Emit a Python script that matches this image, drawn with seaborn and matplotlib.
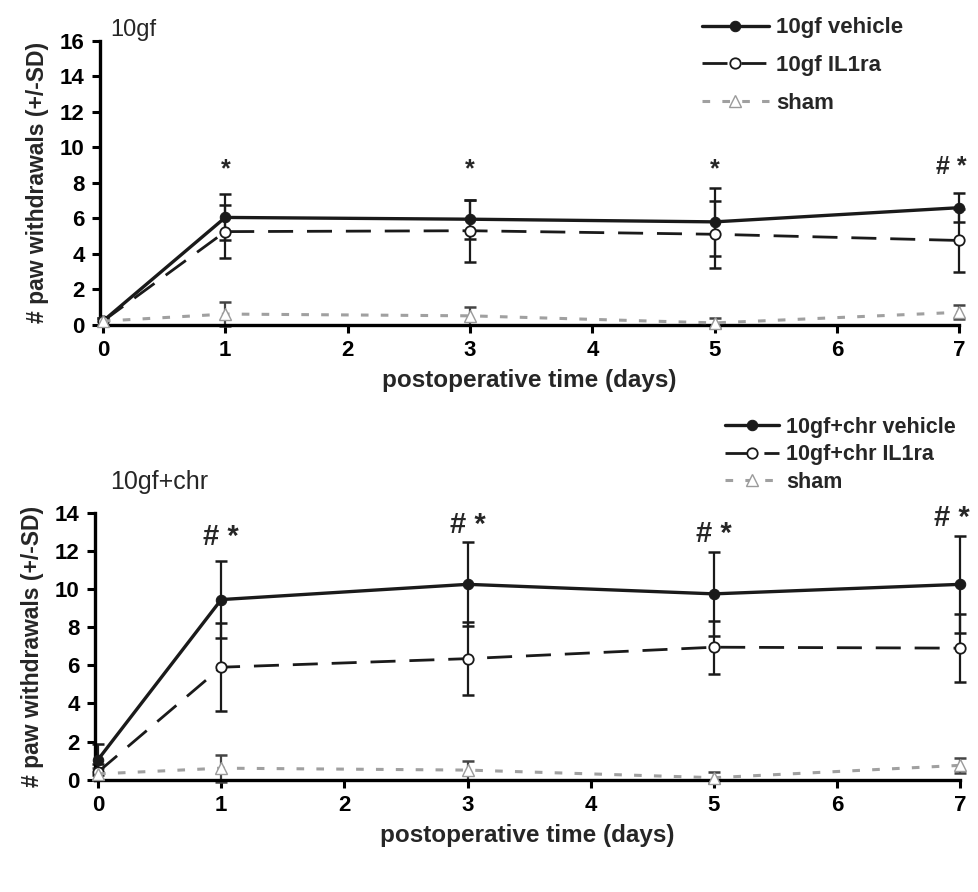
import numpy as np
import pandas as pd
import seaborn as sns
import matplotlib.pyplot as plt

# Data
days = [0, 1, 3, 5, 7]

# panel A: 10gf
veh_a = [0.2, 6.05, 5.95, 5.8, 6.6]
veh_a_sd = [0.2, 1.3, 1.1, 1.9, 0.8]
il_a = [0.2, 5.25, 5.3, 5.1, 4.75]
il_a_sd = [0.2, 1.5, 1.75, 1.9, 1.8]
sham_a = [0.2, 0.6, 0.5, 0.1, 0.7]
sham_a_sd = [0.2, 0.7, 0.5, 0.3, 0.4]

# panel B: 10gf+chr
veh_b = [1.05, 9.45, 10.25, 9.75, 10.25]
veh_b_sd = [0.8, 2.0, 2.2, 2.2, 2.55]
il_b = [0.4, 5.9, 6.35, 6.95, 6.9]
il_b_sd = [0.4, 2.3, 1.9, 1.4, 1.8]
sham_b = [0.3, 0.6, 0.5, 0.1, 0.75]
sham_b_sd = [0.3, 0.7, 0.5, 0.3, 0.4]

# significance marks
marks_a = ["", "*", "*", "*", "# *"]
marks_a_x = [0, 1, 3, 5, 6.93]
marks_a_y = [0, 8.1, 8.1, 8.1, 8.2]
marks_b = ["", "# *", "# *", "# *", "# *"]
marks_b_x = [0, 1, 3, 5, 6.93]
marks_b_y = [0, 12.0, 12.65, 12.15, 13.0]

sns.set_theme(style="white")
plt.rcParams["font.family"] = ["Liberation Sans", "DejaVu Sans"]

fig = plt.figure(figsize=(9.79, 8.92), dpi=100)
ax1 = fig.add_axes([0.102, 0.636, 0.878, 0.318])
ax2 = fig.add_axes([0.097, 0.126, 0.884, 0.299])


def draw_panel(ax, veh, veh_sd, il, il_sd, sham, sham_sd, labels, ymax):
    series = [
        (veh, veh_sd, labels[0], dict(color="#1a1a1a", linestyle="-", lw=2.4,
                                      marker="o", markersize=7.5,
                                      markerfacecolor="#1a1a1a",
                                      markeredgecolor="#1a1a1a"), "#1a1a1a"),
        (il, il_sd, labels[1], dict(color="#1a1a1a", linestyle=(0, (9, 5)), lw=2.0,
                                    marker="o", markersize=7.5,
                                    markeredgewidth=1.3,
                                    markerfacecolor="white",
                                    markeredgecolor="#1a1a1a"), "#1a1a1a"),
        (sham, sham_sd, labels[2], dict(color="#a0a0a0", linestyle=(0, (2.5, 4)), lw=2.2,
                                        marker="^", markersize=9,
                                        markeredgewidth=1.0,
                                        markerfacecolor="white",
                                        markeredgecolor="#9a9a9a"), "#444444"),
    ]
    for vals, sd, lab, kw, ecol in series:
        ax.errorbar(days, vals, yerr=sd, fmt="none", ecolor=ecol,
                    elinewidth=1.6, capsize=4.5, capthick=1.8, clip_on=False,
                    zorder=2)
        df = pd.DataFrame({"day": days, "val": vals})
        sns.lineplot(data=df, x="day", y="val", ax=ax, label=lab,
                     clip_on=False, zorder=3, **kw)

    ax.set_xlim(-0.025, 7)
    ax.set_ylim(0, ymax)
    ax.set_xticks(range(8))
    ax.set_yticks(range(0, ymax + 1, 2))
    for s in ["top", "right"]:
        ax.spines[s].set_visible(False)
    for s in ["left", "bottom"]:
        ax.spines[s].set_color("black")
        ax.spines[s].set_linewidth(2.4)
    ax.tick_params(axis="both", direction="out", length=6, width=2.2,
                   labelsize=16, colors="black", bottom=True, left=True,
                   pad=5)
    for t in ax.get_xticklabels() + ax.get_yticklabels():
        t.set_fontweight("bold")
    ax.set_xlabel("postoperative time (days)", fontsize=17.5,
                  fontweight="bold", labelpad=6)
    ax.set_ylabel("# paw withdrawals (+/-SD)", fontsize=16.5,
                  fontweight="bold", labelpad=8)


draw_panel(ax1, veh_a, veh_a_sd, il_a, il_a_sd, sham_a, sham_a_sd,
           ["10gf vehicle", "10gf IL1ra", "sham"], 16)
draw_panel(ax2, veh_b, veh_b_sd, il_b, il_b_sd, sham_b, sham_b_sd,
           ["10gf+chr vehicle", "10gf+chr IL1ra", "sham"], 14)

ax1.legend(loc="upper left", bbox_to_anchor=(0.69, 1.115), frameon=False,
           prop={"weight": "bold", "size": 16}, handlelength=3.0,
           labelspacing=0.75, handletextpad=0.35, borderaxespad=0)
ax2.legend(loc="upper left", bbox_to_anchor=(0.728, 1.36), frameon=False,
           prop={"weight": "bold", "size": 15.5}, handlelength=2.5,
           labelspacing=0.3, handletextpad=0.35, borderaxespad=0,
           borderpad=0)

for d, m, y in zip(marks_a_x, marks_a, marks_a_y):
    if m:
        ax1.text(d, y, m, ha="center", va="bottom", fontsize=18,
                 fontweight="bold")
for d, m, y in zip(marks_b_x, marks_b, marks_b_y):
    if m:
        ax2.text(d, y, m, ha="center", va="bottom", fontsize=21,
                 fontweight="bold")

ax1.text(0.06, 16.0, "10gf", fontsize=17, va="bottom", ha="left")
ax2.text(0.1, 15.0, "10gf+chr", fontsize=18, va="bottom", ha="left")

fig.savefig("out.png", dpi=100)
